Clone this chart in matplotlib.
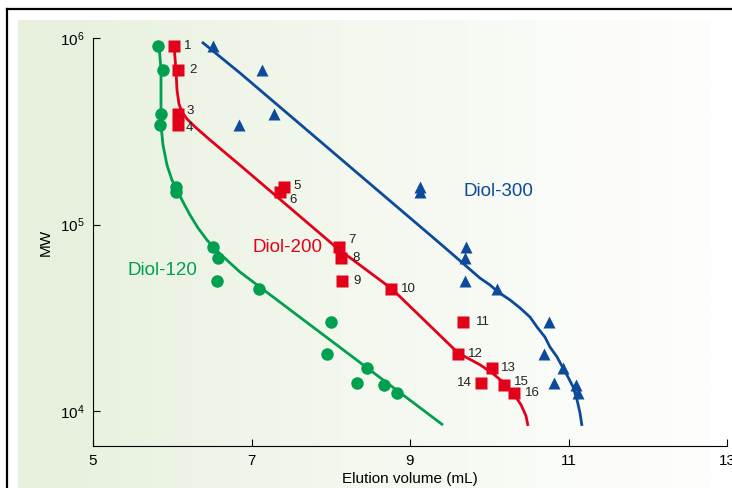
import numpy as np
import matplotlib
matplotlib.use("Agg")
import matplotlib.pyplot as plt
from matplotlib.lines import Line2D
from matplotlib.colors import LinearSegmentedColormap
from matplotlib.ticker import LogLocator, NullLocator

plt.rcParams['font.family'] = ['Liberation Sans', 'DejaVu Sans']

# calibration standards (shared MW values)
mw = [9.06e5, 6.7e5, 3.9e5, 3.4e5, 1.58e5, 1.5e5, 7.6e4, 6.6e4,
      5.0e4, 4.5e4, 3.0e4, 2.02e4, 1.7e4, 1.41e4, 1.38e4, 1.25e4]

# elution volumes (mL) per column
ve_120 = [5.82, 5.88, 5.86, 5.85, 6.05, 6.05, 6.51, 6.58,
          6.56, 7.09, 8.00, 7.95, 8.46, 8.33, 8.67, 8.84]
ve_200 = [6.02, 6.07, 6.07, 6.07, 7.41, 7.36, 8.10, 8.13,
          8.14, 8.76, 9.67, 9.61, 10.03, 9.90, 10.19, 10.31]
ve_300 = [6.51, 7.13, 7.29, 6.84, 9.13, 9.12, 9.71, 9.69,
          9.69, 10.10, 10.75, 10.69, 10.93, 10.82, 11.10, 11.12]
point_labels = [str(i) for i in range(1, 17)]

# calibration curves
curve_120_x = [5.833, 5.858, 5.858, 5.883, 5.934, 5.997, 6.060, 6.136, 6.224,
               6.325, 6.438, 6.565, 6.729, 6.855, 9.416]
curve_120_y = [9.17e5, 6.73e5, 3.42e5, 2.67e5, 2.08e5, 1.73e5, 1.53e5, 1.32e5, 1.125e5,
               9.58e4, 8.26e4, 7.21e4, 6.22e4, 5.56e4, 8410]
curve_200_x = [6.022, 6.047, 6.060, 6.085, 6.123, 6.186, 6.287, 6.476, 6.855, 8.079,
               8.773, 9.606, 9.883, 10.035, 10.174, 10.300, 10.401, 10.464, 10.489]
curve_200_y = [9.17e5, 6.73e5, 5.26e5, 4.43e5, 4.01e5, 3.68e5, 3.34e5, 2.84e5, 2.08e5, 7.48e4,
               4.51e4, 2.05e4, 1.77e4, 1.60e4, 1.43e4, 1.25e4, 1.08e4, 9400, 8320]
curve_300_x = [6.375, 6.855, 9.416, 9.883, 10.009, 10.110, 10.262, 10.388, 10.514, 10.603,
               10.703, 10.767, 10.855, 10.931, 10.994, 11.057, 11.107, 11.145, 11.170]
curve_300_y = [9.52e5, 6.49e5, 7.67e4, 5.16e4, 4.74e4, 4.35e4, 3.94e4, 3.57e4, 3.19e4, 2.82e4,
               2.49e4, 2.20e4, 1.95e4, 1.70e4, 1.52e4, 1.35e4, 1.15e4, 9760, 8320]

GREEN = '#00a050'
RED = '#e3001b'
BLUE = '#0d4a9a'

fig = plt.figure(figsize=(7.32, 4.88), dpi=100)

# light green gradient panel behind the plot
bg = fig.add_axes([18 / 732, 0, (711 - 18) / 732, (488 - 20) / 488])
grad = np.linspace(0, 1, 256).reshape(1, -1)
cmap = LinearSegmentedColormap.from_list('bg', ['#e6f0dc', '#f4f8ef', '#fefefd'])
bg.imshow(grad, aspect='auto', cmap=cmap, extent=[0, 1, 0, 1])
bg.set_axis_off()

# outer frame lines
fig.add_artist(Line2D([7 / 732, 1], [1 - 9 / 488, 1 - 9 / 488], color='black', lw=1.6))
fig.add_artist(Line2D([7 / 732, 7 / 732], [0, 1 - 9 / 488], color='black', lw=1.6))

ax = fig.add_axes([93 / 732, 1 - 446 / 488, (727 - 93) / 732, (446 - 38) / 488])
ax.patch.set_alpha(0)
ax.set_yscale('log')
ax.set_xlim(5, 13)
ax.set_ylim(6492, 1e6)

ax.plot(curve_120_x, curve_120_y, color=GREEN, lw=2, solid_capstyle='butt', solid_joinstyle='round')
ax.plot(curve_200_x, curve_200_y, color=RED, lw=2, solid_capstyle='butt', solid_joinstyle='round')
ax.plot(curve_300_x, curve_300_y, color=BLUE, lw=2, solid_capstyle='butt', solid_joinstyle='round')

ax.plot(ve_120, mw, 'o', color=GREEN, ms=9, mec='none')
ax.plot(ve_200, mw, 's', color=RED, ms=8, mec='none')
ax.plot(ve_300, mw, '^', color=BLUE, ms=9, mec='none')

# label offsets (points) for the Diol-200 standards
offsets = [(7, 0), (8, 0), (6, 2), (6, -2), (7, 1), (7, -6), (7, 5), (8, 0),
           (8, 0), (7, 0), (9, 0), (7, 0), (7, 0), (-7, 0), (7, 2), (8, 0)]
for x, y, lab, off in zip(ve_200, mw, point_labels, offsets):
    ax.annotate(lab, (x, y), xytext=off, textcoords='offset points',
                ha='right' if off[0] < 0 else 'left', va='center',
                fontsize=9.5, color='#222222')

ax.text(5.88, 5.7e4, 'Diol-120', color=GREEN, fontsize=13.5, ha='center', va='center')
ax.text(7.45, 7.57e4, 'Diol-200', color=RED, fontsize=13.5, ha='center', va='center')
ax.text(10.11, 1.51e5, 'Diol-300', color=BLUE, fontsize=13.5, ha='center', va='center')

ax.spines['top'].set_visible(False)
ax.spines['right'].set_visible(False)
ax.set_xticks([5, 7, 9, 11, 13])
ax.yaxis.set_major_locator(LogLocator(base=10, numticks=10))
ax.yaxis.set_minor_locator(NullLocator())
ax.tick_params(direction='in', length=5, labelsize=11, pad=6)
ax.set_xlabel('Elution volume (mL)', fontsize=11, labelpad=3)
ax.set_ylabel('MW', fontsize=11, labelpad=5)

fig.savefig('out.png', dpi=100)
